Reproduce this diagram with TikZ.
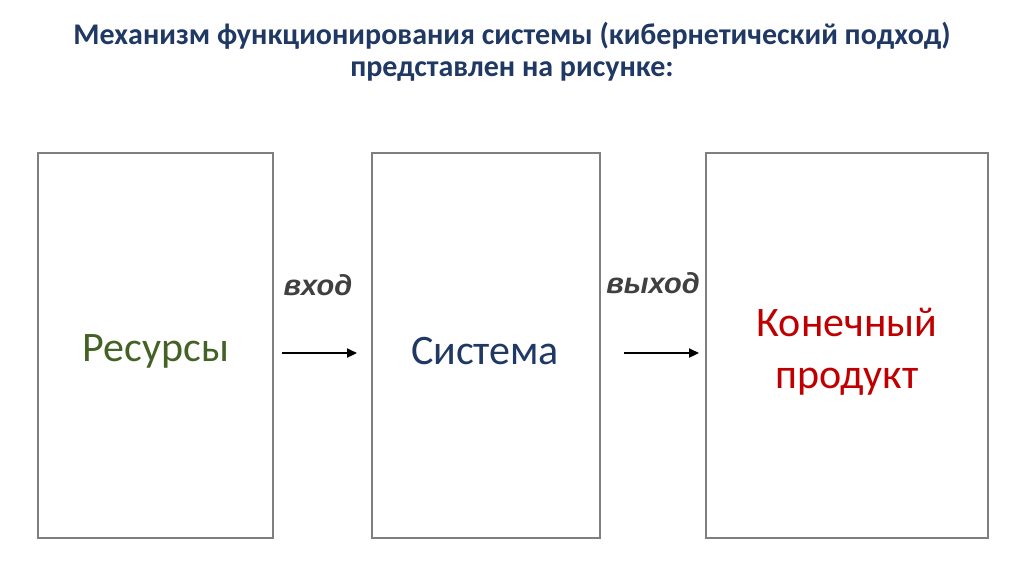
\documentclass[tikz,border=0pt]{standalone}
\usepackage{fontspec}
\setmainfont{Carlito}
\newfontfamily\arialfont{Liberation Sans}
\usetikzlibrary{arrows.meta,calc}
\definecolor{titleblue}{HTML}{1F3864}
\definecolor{sysblue}{HTML}{1F3864}
\definecolor{resgreen}{HTML}{456226}
\definecolor{prodred}{HTML}{C00000}
\definecolor{boxgray}{HTML}{7F7F7F}
\definecolor{labgray}{HTML}{404040}
\begin{document}
\begin{tikzpicture}[x=1pt,y=-1pt,
  panel/.style={draw=boxgray,line width=1.3pt,inner sep=0pt},
  bigtext/.style={font=\fontsize{42}{52}\selectfont,align=center},
  labtext/.style={font=\arialfont\bfseries\itshape\fontsize{29}{34}\selectfont,text=labgray},
  flow/.style={line width=2.2pt,-{Triangle[length=10pt,width=9pt]}}]
\useasboundingbox (0,0) rectangle (1024,574);
\fill[white] (0,0) rectangle (1024,574);
\node[font=\bfseries\fontsize{30}{32}\selectfont,text=titleblue,align=center] (title) at (512,52)
  {Механизм функционирования системы (кибернетический подход)\\представлен на рисунке:};
\draw[panel] (38,153) rectangle (273,538);
\draw[panel] (372,153) rectangle (600,538);
\draw[panel] (706,153) rectangle (988,538);
\node[bigtext,text=resgreen] (res) at (156,351) {Ресурсы};
\node[bigtext,text=sysblue] (sys) at (485,351) {Система};
\node[bigtext,text=prodred] (prod) at (847,352) {Конечный\\продукт};
\node[labtext] (vh) at (318,285) {вход};
\node[labtext] (vyh) at (653,283) {выход};
\coordinate (a1s) at (282,353);
\coordinate (a1e) at (357,353);
\coordinate (a2s) at (624,353);
\coordinate (a2e) at (699,353);
\draw[flow] (a1s) -- (a1e);
\draw[flow] (a2s) -- (a2e);
\end{tikzpicture}
\end{document}
